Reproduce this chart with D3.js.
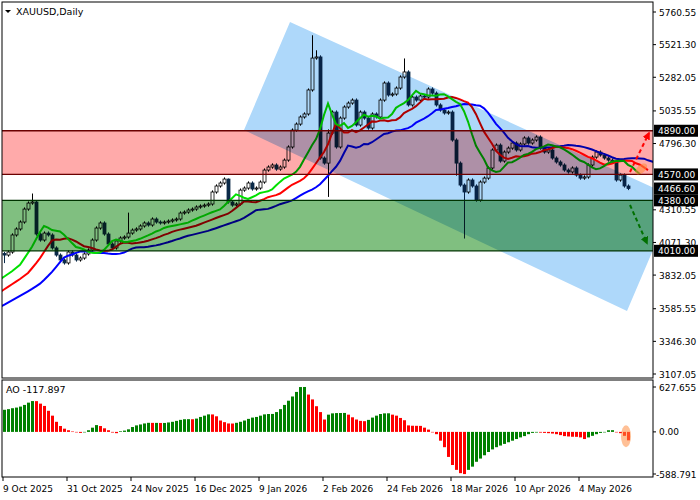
<!DOCTYPE html>
<html>
<head>
<meta charset="utf-8">
<style>
  body { margin: 0; background: #fff; }
  svg { font-family: 'DejaVu Sans', sans-serif; }
</style>
</head>
<body>
<div id="chart"></div>
<script src="https://d3js.org/d3.v7.min.js"></script>
<script>
// daily closes, 9 Oct 2025 .. mid May 2026
const closes = [3979,4001,4126,4170,4221,4316,4360,4368,4133,4089,4140,4126,4031,3979,3943,3921,4001,3979,3943,3957,
  3987,4016,4089,4177,4214,4133,4060,4031,4082,4104,4111,4140,4162,4170,4192,4214,4199,4243,4221,4214,
  4221,4228,4236,4243,4287,4294,4309,4316,4331,4338,4345,4353,4441,4485,4507,4536,4368,4345,4353,4455,
  4470,4507,4463,4470,4514,4602,4624,4639,4609,4624,4675,4771,4895,4939,4991,5013,5189,5423,5431,4690,
  4653,4873,5027,4771,4983,5064,5093,5115,4932,5027,4983,4910,5013,4991,5115,5240,5152,5159,5203,5284,
  5321,5079,5137,5115,5145,5137,5196,5166,5079,5042,5020,5027,4822,4653,4492,4441,4529,4485,4382,4514,
  4543,4617,4749,4785,4668,4734,4763,4800,4749,4793,4837,4800,4822,4844,4763,4734,4749,4690,4661,4639,
  4602,4588,4617,4565,4543,4551,4639,4697,4734,4712,4690,4675,4661,4529,4565,4485,4467]
// rough lead-in closes before the first drawn bar (only feed the moving averages)
const leadIn = [3360,3380,3400,3420,3440,3460,3480,3500,3520,3540,3560,3580,3600,3620,3640,3660,3680,3700,3720,3740,
  3760,3780,3800,3820,3840,3860,3880,3900,3920,3940]
// long wicks that stand out
const wickHigh = {7: 4430, 31: 4290, 56: 4540, 76: 5200, 77: 5590, 78: 5480, 100: 5420, 81: 4900}
const wickLow = {0: 3920, 81: 4405, 115: 4100, 113: 4560}
// Awesome Oscillator
const ao = [309,318,331,340,354,377,409,431,430,395,363,295,227,141,82,45,23,5,-5,-14,
  0,23,59,95,82,50,23,-9,-18,9,18,36,68,91,104,118,127,126,126,125,125,132,141,154,168,177,178,177,186,209,
  227,245,244,218,159,136,118,117,127,141,159,182,200,209,227,245,250,251,277,318,377,436,495,559,627,628,
  522,454,359,277,173,241,259,263,264,265,241,204,173,154,150,168,200,227,250,259,260,241,227,195,163,91,
  86,85,84,59,32,0,-32,-123,-214,-350,-463,-531,-577,-590,-531,-486,-418,-373,-327,-281,-245,-214,-191,-168,
  -145,-123,-100,-77,-59,-32,-14,-9,-10,-14,-18,-23,-32,-45,-59,-64,-68,-69,-77,-100,-77,-55,-32,-14,0,23,
  24,0,-18,-55,-118]
const priceTicks = [5760.55,5521.30,5282.05,5035.55,4796.30,4310.55,4071.30,3832.05,3585.55,3346.30,3107.05]
const levels = [{v:4890,c:'#6b0000'},{v:4570,c:'#6b0000'},{v:4380,c:'#003300'},{v:4010,c:'#003300'}]
const dateLabels = [{i:0,t:'9 Oct 2025'},{i:16,t:'31 Oct 2025'},{i:32,t:'24 Nov 2025'},{i:48,t:'16 Dec 2025'},
  {i:64,t:'9 Jan 2026'},{i:80,t:'2 Feb 2026'},{i:96,t:'24 Feb 2026'},{i:112,t:'18 Mar 2026'},
  {i:128,t:'10 Apr 2026'},{i:144,t:'4 May 2026'}]
// channel corners (bar index, price)
const channel = [[71.5,5687],[170,4370],[162.25,4016],[155.75,3569],[60,4895]]

const W = 700, H = 500
const pl = 2, pr = 653, mainTop = 2, mainBot = 378, aoTop = 380, aoBot = 477

const svg = d3.select('#chart').append('svg').attr('width', W).attr('height', H)

const x = d3.scaleLinear().domain([0, 156]).range([4, 628])
const y = d3.scaleLinear().domain([3107.05, 5760.55]).range([374, 12])
const ya = d3.scaleLinear().domain([-588.791, 627.655]).range([474, 387])

svg.append('clipPath').attr('id', 'cm').append('rect')
  .attr('x', pl).attr('y', mainTop).attr('width', pr - pl).attr('height', mainBot - mainTop)

const main = svg.append('g').attr('clip-path', 'url(#cm)').style('isolation', 'isolate')
main.append('rect').attr('x', pl).attr('y', mainTop).attr('width', pr - pl).attr('height', mainBot - mainTop).attr('fill', '#fff')

// candles
const bars = closes.map((c, i) => {
  const o = i === 0 ? 3990 : closes[i - 1]
  return {i, o, c, h: wickHigh[i] || Math.max(o, c) + 12, l: wickLow[i] || Math.min(o, c) - 12}
})
main.append('g').selectAll('line').data(bars).join('line')
  .attr('x1', d => x(d.i) + 0.5).attr('x2', d => x(d.i) + 0.5)
  .attr('y1', d => y(d.h)).attr('y2', d => y(d.l))
  .attr('stroke', d => d.c >= d.o ? '#000' : '#0b2a48').attr('stroke-width', 1)
main.append('g').selectAll('rect').data(bars).join('rect')
  .attr('x', d => x(d.i) - 1).attr('width', 3)
  .attr('y', d => y(Math.max(d.o, d.c)))
  .attr('height', d => Math.max(1, Math.abs(y(d.o) - y(d.c))))
  .attr('fill', d => d.c >= d.o ? '#fff' : '#0b2a48')
  .attr('stroke', d => d.c >= d.o ? '#000' : '#0b2a48').attr('stroke-width', 0.8)

// alligator lines (smoothed MA, shifted forward)
const all = leadIn.concat(closes)
function smma(n, shift) {
  const out = []
  let prev = d3.mean(all.slice(0, n))
  for (let k = n; k < all.length; k++) {
    prev = (prev * (n - 1) + all[k]) / n
    out.push({i: k - leadIn.length + shift, v: prev})
  }
  return out.filter(d => d.i >= -1)
}
const lineGen = d3.line().x(d => x(d.i)).y(d => y(d.v))
;[{n:13,s:8,c:'#0000ff'},{n:8,s:5,c:'#ff0000'},{n:5,s:3,c:'#00e000'}].forEach(m => {
  main.append('path').datum(smma(m.n, m.s)).attr('d', lineGen)
    .attr('fill', 'none').attr('stroke', m.c).attr('stroke-width', 2)
})

// bands (multiplied over the candles like the terminal does)
main.append('rect').attr('x', pl).attr('width', pr - pl)
  .attr('y', y(4890)).attr('height', y(4570) - y(4890))
  .attr('fill', '#ffaaaa').style('mix-blend-mode', 'multiply')
main.append('rect').attr('x', pl).attr('width', pr - pl)
  .attr('y', y(4380)).attr('height', y(4010) - y(4380))
  .attr('fill', '#80bf80').style('mix-blend-mode', 'multiply')

// channel
main.append('path').attr('d', d3.line().x(d => x(d[0])).y(d => y(d[1]))(channel) + 'Z')
  .attr('fill', '#aed8fa').style('mix-blend-mode', 'multiply')

main.append('g').selectAll('line').data(levels).join('line')
  .attr('x1', pl).attr('x2', pr).attr('y1', d => y(d.v)).attr('y2', d => y(d.v))
  .attr('stroke', d => d.c).attr('stroke-width', 1.3)

// arrows
const defs = svg.append('defs')
;[['ar', '#ff0000'], ['ag', '#007000']].forEach(([id, c]) => {
  defs.append('marker').attr('id', id).attr('viewBox', '0 0 10 10').attr('refX', 8).attr('refY', 5)
    .attr('markerWidth', 4).attr('markerHeight', 4).attr('orient', 'auto')
    .append('path').attr('d', 'M0,0L10,5L0,10Z').attr('fill', c)
})
main.append('line').attr('x1', x(156.5)).attr('y1', y(4588)).attr('x2', x(161.25)).attr('y2', y(4874))
  .attr('stroke', '#ff0000').attr('stroke-width', 2).attr('stroke-dasharray', '4,3').attr('marker-end', 'url(#ar)')
main.append('line').attr('x1', x(156.5)).attr('y1', y(4346)).attr('x2', x(160.75)).attr('y2', y(4065))
  .attr('stroke', '#007000').attr('stroke-width', 2).attr('stroke-dasharray', '4,3').attr('marker-end', 'url(#ag)')
main.append('ellipse').attr('cx', x(159.3)).attr('cy', y(4610)).attr('rx', 7).attr('ry', 4)
  .attr('transform', `rotate(-40,${x(159.3)},${y(4610)})`).attr('fill', '#ff8c40').attr('opacity', 0.6)

// frames
svg.append('rect').attr('x', pl).attr('y', mainTop).attr('width', pr - pl).attr('height', mainBot - mainTop)
  .attr('fill', 'none').attr('stroke', '#000')
svg.append('rect').attr('x', pl).attr('y', aoTop).attr('width', pr - pl).attr('height', aoBot - aoTop)
  .attr('fill', 'none').attr('stroke', '#000')

// price axis
const pa = svg.append('g').attr('font-size', 9)
pa.selectAll('line').data(priceTicks).join('line')
  .attr('x1', pr).attr('x2', pr + 3).attr('y1', d => y(d)).attr('y2', d => y(d)).attr('stroke', '#000')
pa.selectAll('text').data(priceTicks).join('text')
  .attr('x', 659).attr('y', d => y(d) + 3.5).text(d => d.toFixed(2))
const boxes = [4890, 4570, 4466.6, 4380, 4010]
const bg = svg.append('g').attr('font-size', 9)
bg.selectAll('rect').data(boxes).join('rect')
  .attr('x', 654).attr('y', d => y(d) - 6).attr('width', 44).attr('height', 12).attr('fill', '#000')
bg.selectAll('text').data(boxes).join('text')
  .attr('x', 658).attr('y', d => y(d) + 3.5).attr('fill', '#fff').text(d => d.toFixed(2))

// AO
svg.append('g').selectAll('rect').data(ao).join('rect')
  .attr('x', (d, i) => x(i) - 1).attr('width', 3)
  .attr('y', d => Math.min(ya(d), ya(0))).attr('height', d => Math.max(0.5, Math.abs(ya(d) - ya(0))))
  .attr('fill', (d, i) => i > 0 && d < ao[i - 1] ? '#ff0000' : '#008000')
svg.append('ellipse').attr('cx', x(155.5)).attr('cy', ya(-60)).attr('rx', 5).attr('ry', 11)
  .attr('fill', '#ff8c40').attr('opacity', 0.55)
const aoTicks = [627.655, 0, -588.791]
const aa = svg.append('g').attr('font-size', 9)
aa.selectAll('line').data(aoTicks).join('line')
  .attr('x1', pr).attr('x2', pr + 3).attr('y1', d => ya(d)).attr('y2', d => ya(d)).attr('stroke', '#000')
aa.selectAll('text').data(aoTicks).join('text')
  .attr('x', d => d < 0 ? 656 : 659).attr('y', d => ya(d) + 3.5).text(d => d === 0 ? '0.00' : d.toFixed(3))

// date axis
const da = svg.append('g').attr('font-size', 9)
da.selectAll('line').data(dateLabels).join('line')
  .attr('x1', d => x(d.i) - 1).attr('x2', d => x(d.i) - 1).attr('y1', aoBot).attr('y2', aoBot + 4).attr('stroke', '#000')
da.selectAll('text').data(dateLabels).join('text')
  .attr('x', d => x(d.i) - 1).attr('y', 492).text(d => d.t)

// titles
svg.append('path').attr('d', 'M5,10L11,10L8,13Z').attr('fill', '#000')
svg.append('text').attr('x', 16).attr('y', 15).attr('font-size', 9.5).text('XAUUSD,Daily')
svg.append('text').attr('x', 6).attr('y', 393).attr('font-size', 9.5).text('AO -117.897')
</script>
</body>
</html>
